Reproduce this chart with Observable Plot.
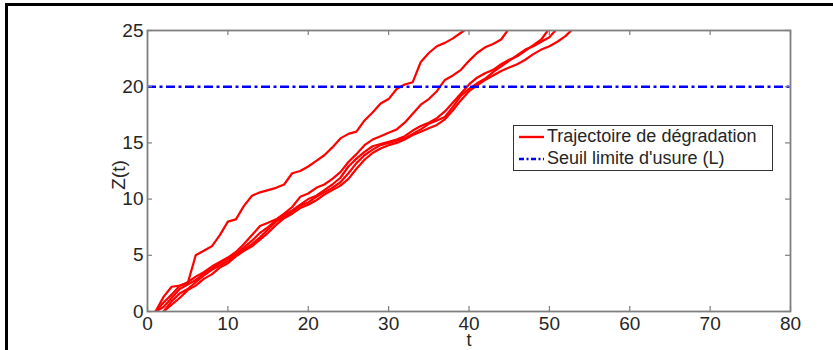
<!DOCTYPE html>
<html><head><meta charset="utf-8">
<script src="https://cdn.jsdelivr.net/npm/d3@7"></script>
<script src="https://cdn.jsdelivr.net/npm/@observablehq/plot@0.6"></script>
<style>
body{margin:0;background:#fff;}
#wrap{position:relative;width:833px;height:350px;overflow:hidden;font-family:"Liberation Sans",Arial,sans-serif;background:#fff;}
#border{position:absolute;left:5px;top:3px;width:840px;height:360px;border-left:3px solid #000;border-top:3px solid #000;pointer-events:none;}
#legend{position:absolute;left:513px;top:125px;width:260px;height:46px;border:1px solid #333;background:#fff;box-sizing:border-box;}
#legend .row{position:absolute;left:4px;height:20px;}
#legend svg{position:absolute;left:0;top:0;}
#legend span{position:absolute;left:29px;top:-1px;font-size:18px;line-height:20px;color:#262626;white-space:nowrap;}
</style>
</head><body>
<div id="wrap"><div id="chart"></div>
<div id="legend"></div>
<div id="border"></div>
</div>
<script>
const xTicks = [0, 10, 20, 30, 40, 50, 60, 70, 80];
const yTicks = [0, 5, 10, 15, 20, 25];
const threshold = 20;
const legendLabels = ["Trajectoire de dégradation", "Seuil limite d'usure (L)"];

const traj1 = [[1,0],[2,1.3],[3,2.2],[4,2.3],[5,2.5],[6,5.0],[7,5.4],[8,5.8],[9,6.8],[10,8.0],[11,8.2],[12,9.4],[13,10.3],[14,10.6],[15,10.8],[16,11.0],[17,11.3],[18,12.3],[19,12.5],[20,12.9],[21,13.4],[22,13.9],[23,14.6],[24,15.4],[25,15.8],[26,16.0],[27,17.0],[28,17.7],[29,18.5],[30,18.9],[31,19.8],[32,20.2],[33,20.4],[34,22.2],[35,23.0],[36,23.6],[37,23.9],[38,24.3],[39,24.8],[40,25.3]];
const traj2 = [[1,0],[2,0.8],[3,1.5],[4,2.3],[5,2.6],[6,3.1],[7,3.5],[8,4.0],[9,4.4],[10,4.8],[11,5.3],[12,6.0],[13,6.8],[14,7.6],[15,7.9],[16,8.2],[17,8.7],[18,9.3],[19,10.2],[20,10.5],[21,11.0],[22,11.3],[23,11.8],[24,12.4],[25,13.3],[26,14.0],[27,14.8],[28,15.3],[29,15.6],[30,15.9],[31,16.2],[32,16.8],[33,17.6],[34,18.4],[35,18.9],[36,19.6],[37,20.6],[38,21.0],[39,21.5],[40,22.3],[41,23.0],[42,23.5],[43,23.8],[44,24.2],[45,25.2]];
const traj3 = [[1,0],[2,0.4],[3,1.2],[4,2.0],[5,2.4],[6,2.8],[7,3.4],[8,3.8],[9,4.3],[10,4.7],[11,5.1],[12,5.7],[13,6.3],[14,7.0],[15,7.5],[16,8.1],[17,8.6],[18,9.0],[19,9.5],[20,10.0],[21,10.3],[22,10.8],[23,11.3],[24,11.9],[25,12.9],[26,13.6],[27,14.2],[28,14.7],[29,14.9],[30,15.1],[31,15.3],[32,15.6],[33,16.1],[34,16.5],[35,16.8],[36,17.2],[37,17.8],[38,18.6],[39,19.4],[40,20.2],[41,20.8],[42,21.2],[43,21.5],[44,22.0],[45,22.4],[46,22.7],[47,23.2],[48,23.7],[49,24.2],[50,25.2]];
const traj4 = [[2,0],[3,0.9],[4,1.6],[5,2.0],[6,2.6],[7,3.2],[8,3.7],[9,4.1],[10,4.5],[11,5.0],[12,5.5],[13,6.0],[14,6.6],[15,7.3],[16,8.0],[17,8.4],[18,8.9],[19,9.4],[20,9.7],[21,10.2],[22,10.6],[23,11.0],[24,11.5],[25,12.3],[26,13.2],[27,13.9],[28,14.4],[29,14.8],[30,15.0],[31,15.2],[32,15.4],[33,15.8],[34,16.2],[35,16.7],[36,17.0],[37,17.3],[38,18.2],[39,19.2],[40,19.8],[41,20.3],[42,20.7],[43,21.3],[44,21.8],[45,22.3],[46,22.8],[47,23.3],[48,23.6],[49,24.0],[50,24.4],[51,25.2]];
const traj5 = [[2,0],[3,0.6],[4,1.2],[5,1.9],[6,2.3],[7,2.9],[8,3.3],[9,3.9],[10,4.3],[11,4.9],[12,5.4],[13,5.8],[14,6.4],[15,7.0],[16,7.7],[17,8.3],[18,8.7],[19,9.2],[20,9.5],[21,9.9],[22,10.4],[23,10.8],[24,11.2],[25,11.8],[26,12.7],[27,13.5],[28,14.1],[29,14.5],[30,14.8],[31,15.0],[32,15.3],[33,15.7],[34,16.0],[35,16.3],[36,16.6],[37,17.1],[38,17.9],[39,18.8],[40,19.6],[41,20.1],[42,20.6],[43,21.0],[44,21.4],[45,21.7],[46,22.0],[47,22.4],[48,22.9],[49,23.3],[50,23.6],[51,24.0],[52,24.5],[53,25.2]];

const rows = [traj1, traj2, traj3, traj4, traj5].flatMap((tr, i) => tr.map(([t, z]) => ({id: i, t, z})));

const axisColor = "#7f7f7f";
const textColor = "#262626";
const dashDot = "9,3.5,3,3.5";

const chart = Plot.plot({
  width: 833,
  height: 350,
  marginLeft: 147,
  marginRight: 43,
  marginTop: 30,
  marginBottom: 39,
  style: {fontFamily: "'Liberation Sans', Arial, sans-serif", fontSize: "19px", background: "#fff"},
  x: {domain: [0, 80]},
  y: {domain: [0, 25]},
  marks: [
    Plot.line(rows, {x: "t", y: "z", z: "id", stroke: "red", strokeWidth: 2.2, clip: true}),
    Plot.ruleY([threshold], {stroke: "blue", strokeWidth: 2.4, strokeDasharray: dashDot}),
    Plot.frame({stroke: axisColor, strokeWidth: 1.8}),
    Plot.tickX(xTicks, {x: d => d, insetTop: 276, stroke: axisColor, strokeWidth: 1.2}),
    Plot.tickX(xTicks, {x: d => d, insetBottom: 276, stroke: axisColor, strokeWidth: 1.2}),
    Plot.tickY(yTicks, {y: d => d, insetRight: 638, stroke: axisColor, strokeWidth: 1.2}),
    Plot.tickY(yTicks, {y: d => d, insetLeft: 638, stroke: axisColor, strokeWidth: 1.2}),
    Plot.axisX(xTicks, {tickSize: 0, tickPadding: 5, color: textColor, label: null, fontSize: 19}),
    Plot.axisY(yTicks, {tickSize: 0, tickPadding: 4, color: textColor, label: null, fontSize: 19}),
    Plot.text(["Z(t)"], {frameAnchor: "left", textAnchor: "middle", lineAnchor: "middle", dx: -29, dy: 4, rotate: -90, fill: textColor, fontSize: 19}),
    Plot.text(["t"], {frameAnchor: "bottom", textAnchor: "middle", lineAnchor: "middle", dy: 29, fill: textColor, fontSize: 18})
  ]
});
document.getElementById("chart").appendChild(chart);

const legend = document.getElementById("legend");
const styles = [
  {stroke: "red", dash: null},
  {stroke: "blue", dash: "5,2.5,2,2.5"}
];
legendLabels.forEach((lab, i) => {
  const row = document.createElement("div");
  row.className = "row";
  row.style.top = (i === 0 ? 1 : 23) + "px";
  const ns = "http://www.w3.org/2000/svg";
  const s = document.createElementNS(ns, "svg");
  s.setAttribute("width", "28"); s.setAttribute("height", "20");
  const l = document.createElementNS(ns, "line");
  l.setAttribute("x1", "1"); l.setAttribute("x2", "26");
  l.setAttribute("y1", "10"); l.setAttribute("y2", "10");
  l.setAttribute("stroke", styles[i].stroke);
  l.setAttribute("stroke-width", "2.4");
  if (styles[i].dash) l.setAttribute("stroke-dasharray", styles[i].dash);
  s.appendChild(l);
  row.appendChild(s);
  const sp = document.createElement("span");
  sp.textContent = lab;
  row.appendChild(sp);
  legend.appendChild(row);
});
</script>
</body></html>
